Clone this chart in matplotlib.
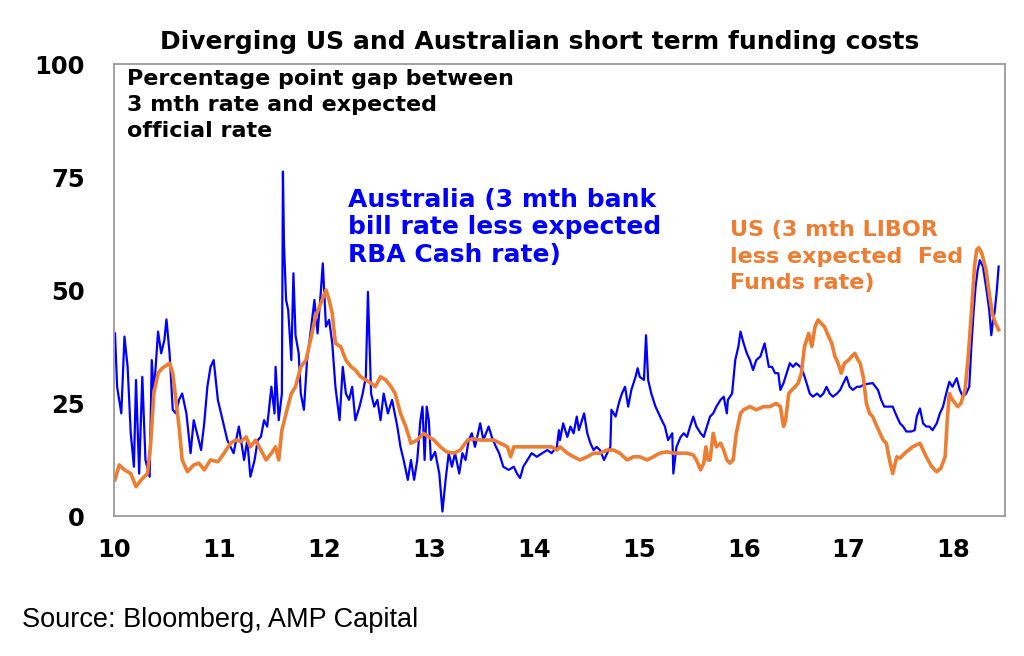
import matplotlib.pyplot as plt

plt.rcParams["font.family"] = ["DejaVu Sans"]

# Australia: 3 mth bank bill less expected RBA cash rate (bp), x in years (10 = 2010)
aus_years = [
    10.01, 10.03, 10.07, 10.10, 10.13, 10.16, 10.19, 10.21, 10.24, 10.27,
    10.30, 10.34, 10.36, 10.38, 10.42, 10.45, 10.48, 10.50, 10.53, 10.56,
    10.59, 10.62, 10.65, 10.69, 10.73, 10.76, 10.80, 10.83, 10.86, 10.89,
    10.92, 10.95, 10.99, 11.02, 11.05, 11.08, 11.11, 11.14, 11.19, 11.24,
    11.27, 11.30, 11.34, 11.37, 11.40, 11.43, 11.46, 11.50, 11.53, 11.54,
    11.57, 11.60, 11.61, 11.62, 11.64, 11.66, 11.69, 11.71, 11.73, 11.76,
    11.78, 11.81, 11.84, 11.88, 11.91, 11.94, 11.97, 11.99, 12.02, 12.05,
    12.08, 12.11, 12.15, 12.18, 12.21, 12.24, 12.27, 12.30, 12.34, 12.37,
    12.40, 12.42, 12.45, 12.48, 12.51, 12.54, 12.57, 12.61, 12.65, 12.70,
    12.73, 12.76, 12.80, 12.83, 12.86, 12.89, 12.92, 12.94, 12.96, 12.98,
    13.00, 13.02, 13.06, 13.10, 13.13, 13.16, 13.19, 13.22, 13.25, 13.29,
    13.32, 13.35, 13.38, 13.41, 13.44, 13.49, 13.52, 13.57, 13.60, 13.64,
    13.67, 13.71, 13.76, 13.81, 13.84, 13.87, 13.90, 13.94, 13.98, 14.03,
    14.08, 14.13, 14.17, 14.22, 14.24, 14.25, 14.28, 14.32, 14.35, 14.38,
    14.41, 14.43, 14.45, 14.48, 14.51, 14.54, 14.57, 14.60, 14.63, 14.67,
    14.70, 14.73, 14.74, 14.78, 14.81, 14.84, 14.87, 14.90, 14.93, 14.97,
    14.99, 15.01, 15.05, 15.07, 15.09, 15.12, 15.16, 15.19, 15.22, 15.25,
    15.28, 15.32, 15.33, 15.36, 15.40, 15.43, 15.46, 15.49, 15.52, 15.55,
    15.59, 15.62, 15.65, 15.68, 15.71, 15.74, 15.78, 15.81, 15.84, 15.85,
    15.89, 15.92, 15.95, 15.97, 16.00, 16.03, 16.06, 16.09, 16.12, 16.16,
    16.19, 16.20, 16.24, 16.27, 16.30, 16.33, 16.35, 16.38, 16.41, 16.44,
    16.47, 16.50, 16.54, 16.57, 16.60, 16.63, 16.66, 16.70, 16.73, 16.76,
    16.79, 16.82, 16.85, 16.89, 16.92, 16.95, 16.98, 17.01, 17.04, 17.08,
    17.11, 17.14, 17.17, 17.23, 17.28, 17.31, 17.34, 17.39, 17.42, 17.46,
    17.49, 17.52, 17.55, 17.60, 17.63, 17.65, 17.68, 17.71, 17.74, 17.77,
    17.80, 17.84, 17.87, 17.90, 17.93, 17.96, 17.99, 18.03, 18.06, 18.09,
    18.12, 18.15, 18.17, 18.19, 18.21, 18.23, 18.25, 18.28, 18.31, 18.34,
    18.36, 18.38, 18.39, 18.41, 18.43,
]
aus_gap = [
    40.4, 28.6, 22.7, 39.7, 33.0, 18.3, 10.9, 30.1, 9.4, 30.8,
    12.4, 8.7, 34.5, 27.1, 40.8, 36.0, 38.9, 43.5, 36.0, 23.5,
    22.7, 25.7, 27.1, 22.7, 13.9, 21.2, 17.5, 14.6, 20.5, 28.6,
    33.0, 34.5, 25.7, 22.7, 19.8, 16.8, 15.3, 13.9, 19.8, 12.4,
    16.8, 8.7, 12.4, 16.8, 17.5, 21.2, 19.8, 28.6, 22.7, 33.0,
    21.2, 27.1, 76.2, 60.3, 47.8, 45.6, 34.5, 53.7, 40.0, 36.0,
    27.1, 23.5, 34.5, 41.9, 47.8, 40.4, 49.3, 55.9, 41.9, 43.4,
    38.2, 28.6, 21.2, 33.0, 27.1, 25.7, 28.6, 21.2, 24.2, 27.1,
    30.8, 49.6, 27.1, 24.2, 25.7, 21.2, 27.1, 22.7, 25.7, 19.8,
    15.3, 12.4, 8.0, 12.4, 8.0, 12.4, 21.2, 24.2, 12.4, 24.2,
    21.2, 12.4, 14.2, 9.4, 1.0, 8.0, 13.9, 10.9, 13.9, 9.4,
    13.9, 12.4, 16.8, 18.3, 15.3, 20.5, 16.8, 19.8, 17.5, 15.3,
    13.9, 10.9, 10.2, 10.9, 9.4, 8.4, 10.9, 12.4, 13.9, 13.1,
    13.9, 14.6, 13.9, 15.3, 19.0, 16.8, 20.5, 17.5, 19.8, 18.3,
    22.0, 19.0, 20.5, 22.7, 18.3, 16.1, 14.6, 15.3, 14.6, 12.4,
    13.9, 15.3, 23.5, 22.0, 24.9, 27.1, 28.6, 24.2, 27.9, 30.8,
    32.7, 30.8, 30.1, 40.0, 30.1, 27.1, 24.2, 22.7, 21.2, 19.8,
    16.8, 18.3, 9.4, 15.3, 17.5, 18.3, 17.5, 19.8, 22.0, 19.8,
    18.3, 17.5, 19.8, 22.0, 22.7, 24.2, 25.7, 26.4, 22.7, 25.7,
    27.1, 34.5, 37.5, 40.8, 38.2, 36.0, 34.5, 32.3, 34.5, 35.3,
    37.5, 38.2, 33.0, 33.0, 31.6, 31.6, 27.9, 29.4, 31.6, 33.8,
    33.0, 33.8, 33.0, 31.6, 29.4, 27.1, 26.4, 27.1, 26.4, 27.1,
    28.6, 27.1, 26.4, 27.1, 27.9, 29.4, 30.8, 28.6, 27.9, 28.6,
    28.6, 29.0, 29.2, 29.4, 27.9, 25.7, 24.2, 24.2, 24.2, 22.0,
    20.5, 19.8, 18.7, 18.7, 19.0, 22.0, 23.8, 20.5, 19.8, 19.8,
    19.0, 20.5, 22.7, 24.2, 27.1, 29.7, 28.6, 30.5, 27.9, 26.4,
    27.1, 28.6, 37.5, 44.8, 50.7, 54.4, 56.6, 55.2, 50.7, 45.6,
    40.0, 44.1, 44.8, 49.3, 55.2,
]

# US: 3 mth LIBOR less expected Fed funds rate (bp)
us_years = [
    10.01, 10.05, 10.10, 10.16, 10.21, 10.26, 10.32, 10.35, 10.38, 10.42,
    10.46, 10.53, 10.56, 10.59, 10.62, 10.65, 10.70, 10.76, 10.81, 10.86,
    10.92, 10.99, 11.05, 11.11, 11.16, 11.21, 11.26, 11.30, 11.35, 11.40,
    11.45, 11.50, 11.54, 11.57, 11.60, 11.64, 11.69, 11.73, 11.78, 11.83,
    11.88, 11.92, 11.97, 12.02, 12.05, 12.08, 12.11, 12.16, 12.21, 12.26,
    12.30, 12.35, 12.40, 12.45, 12.49, 12.54, 12.59, 12.64, 12.68, 12.73,
    12.78, 12.83, 12.89, 12.95, 13.00, 13.05, 13.11, 13.17, 13.24, 13.30,
    13.37, 13.43, 13.49, 13.56, 13.62, 13.68, 13.75, 13.78, 13.81, 13.87,
    13.94, 14.00, 14.06, 14.13, 14.17, 14.22, 14.25, 14.32, 14.38, 14.44,
    14.51, 14.57, 14.63, 14.70, 14.76, 14.82, 14.89, 14.95, 15.01, 15.08,
    15.14, 15.20, 15.27, 15.33, 15.40, 15.46, 15.52, 15.55, 15.59, 15.62,
    15.64, 15.66, 15.68, 15.71, 15.74, 15.78, 15.81, 15.84, 15.87, 15.90,
    15.93, 15.97, 16.00, 16.06, 16.12, 16.19, 16.25, 16.31, 16.35, 16.38,
    16.40, 16.43, 16.46, 16.49, 16.52, 16.55, 16.58, 16.62, 16.65, 16.68,
    16.71, 16.74, 16.77, 16.81, 16.84, 16.87, 16.90, 16.93, 16.96, 17.00,
    17.03, 17.06, 17.09, 17.11, 17.14, 17.17, 17.20, 17.23, 17.27, 17.30,
    17.33, 17.36, 17.39, 17.42, 17.46, 17.49, 17.55, 17.61, 17.68, 17.74,
    17.79, 17.84, 17.88, 17.92, 17.94, 17.96, 17.99, 18.04, 18.07, 18.11,
    18.14, 18.17, 18.20, 18.22, 18.24, 18.27, 18.31, 18.34, 18.37, 18.40,
    18.43,
]
us_gap = [
    8.0, 11.3, 10.2, 9.4, 6.5, 8.0, 9.4, 16.1, 27.1, 31.6,
    32.7, 33.8, 31.6, 25.7, 19.8, 12.4, 9.8, 11.3, 11.7, 10.2,
    12.4, 12.0, 13.9, 16.1, 16.8, 16.5, 17.5, 15.3, 16.8, 14.6,
    12.4, 13.9, 15.3, 12.4, 19.0, 22.7, 27.1, 28.6, 33.0, 34.5,
    39.7, 44.1, 47.0, 50.0, 47.8, 44.8, 38.2, 37.5, 34.5, 33.0,
    32.3, 30.8, 30.1, 29.4, 28.6, 30.8, 30.1, 28.6, 27.1, 22.7,
    19.8, 16.1, 16.8, 18.3, 17.5, 16.8, 15.3, 14.2, 13.9, 14.6,
    16.8, 17.1, 16.8, 16.8, 16.8, 16.1, 15.3, 13.1, 15.3, 15.3,
    15.3, 15.3, 15.3, 15.3, 15.3, 14.6, 15.3, 13.9, 13.1, 12.4,
    13.1, 13.9, 13.9, 14.6, 14.6, 13.9, 12.4, 13.1, 13.1, 12.4,
    13.1, 13.9, 14.2, 13.9, 13.9, 13.9, 13.5, 12.4, 10.2, 11.7,
    15.3, 12.4, 12.4, 18.3, 15.3, 16.1, 14.6, 12.4, 11.7, 12.4,
    18.3, 22.7, 23.5, 24.2, 23.5, 24.2, 24.2, 24.9, 24.2, 19.8,
    21.2, 27.1, 27.9, 28.6, 29.4, 31.6, 37.5, 40.4, 37.5, 41.9,
    43.4, 42.6, 41.9, 39.7, 38.2, 35.3, 33.8, 31.6, 33.8, 34.5,
    35.3, 36.0, 34.5, 33.8, 30.8, 24.9, 22.7, 22.0, 19.8, 18.3,
    16.8, 16.1, 12.4, 9.4, 13.1, 12.8, 14.2, 15.3, 16.1, 13.1,
    11.0, 9.8, 10.6, 13.1, 21.2, 27.1, 25.7, 24.2, 24.9, 27.9,
    35.3, 44.8, 55.2, 58.8, 59.4, 58.1, 54.4, 49.3, 44.8, 42.6,
    41.2,
]

year_ticks = list(range(10, 19))
gap_ticks = [0, 25, 50, 75, 100]

fig = plt.figure(figsize=(10.24, 6.56), dpi=100)
ax = fig.add_axes([0.1113, 0.2134, 0.8701, 0.689])

ax.plot(aus_years, aus_gap, color="#0000ff", lw=1.6)
ax.plot(us_years, us_gap, color="#ed7d31", lw=2.6)

ax.set_xlim(10, 18.49)
ax.set_ylim(0, 100)
ax.set_xticks(year_ticks)
ax.set_yticks(gap_ticks)
ax.tick_params(length=0, labelsize=17.5)
ax.tick_params(axis="x", pad=16)
ax.tick_params(axis="y", pad=21)
for lab in ax.get_xticklabels() + ax.get_yticklabels():
    lab.set_fontweight("bold")
for sp in ax.spines.values():
    sp.set_color("#9a9a9a")
    sp.set_linewidth(1.3)

fig.text(0.527, 0.936, "Diverging US and Australian short term funding costs",
         ha="center", va="center", fontsize=18, fontweight="bold")

ax.text(0.0146, 0.99, "Percentage point gap between\n3 mth rate and expected\nofficial rate",
        transform=ax.transAxes, ha="left", va="top", fontsize=16,
        fontweight="bold", linespacing=1.4)
ax.text(0.263, 0.726, "Australia (3 mth bank\nbill rate less expected\nRBA Cash rate)",
        transform=ax.transAxes, ha="left", va="top", fontsize=18,
        fontweight="bold", color="#0000ff", linespacing=1.18)
ax.text(0.691, 0.655, "US (3 mth LIBOR\nless expected  Fed\nFunds rate)",
        transform=ax.transAxes, ha="left", va="top", fontsize=16,
        fontweight="bold", color="#ed7d31", linespacing=1.42)

fig.text(0.021, 0.055, "Source: Bloomberg, AMP Capital", ha="left", va="center",
         fontsize=19.5, family="Liberation Sans")

fig.savefig("out.png", dpi=100)
